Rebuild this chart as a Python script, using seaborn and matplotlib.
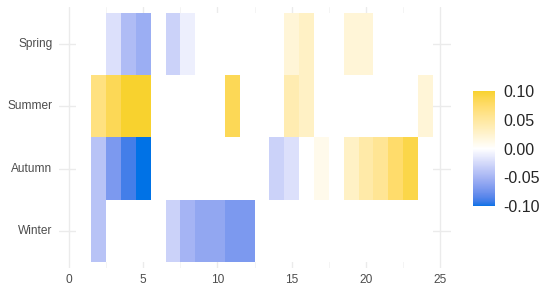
import numpy as np
import pandas as pd
import matplotlib
matplotlib.use("Agg")
import matplotlib.pyplot as plt
import seaborn as sns
from matplotlib.colors import ListedColormap

# data (x = 1..24, one row per season)
seasons = ["Spring", "Summer", "Autumn", "Winter"]
days = list(range(1, 25))
spring = [0, 0, -0.02, -0.045, -0.055, 0, -0.03, -0.01, 0, 0, 0, 0,
          0, 0, 0.02, 0.03, 0, 0, 0.02, 0.02, 0, 0, 0, 0]
summer = [0, 0.065, 0.085, 0.1, 0.1, 0, 0, 0, 0, 0, 0.085, 0,
          0, 0, 0.04, 0.03, 0, 0, 0, 0, 0, 0, 0, 0.02]
autumn = [0, -0.04, -0.07, -0.09, -0.1, 0, 0, 0, 0, 0, 0, 0,
          0, -0.03, -0.02, 0, 0.01, 0, 0.03, 0.045, 0.055, 0.075, 0.09, 0]
winter = [0, -0.04, 0, 0, 0, 0, -0.03, -0.05, -0.06, -0.06, -0.07, -0.07,
          0, 0, 0, 0, 0, 0, 0, 0, 0, 0, 0, 0]

x_ticks = [0, 5, 10, 15, 20, 25]
x_minor = [2.5, 7.5, 12.5, 17.5, 22.5]
cbar_ticks = [-0.1, -0.05, 0.0, 0.05, 0.1]
cbar_labels = ["-0.10", "-0.05", "0.00", "0.05", "0.10"]

df = pd.DataFrame([spring, summer, autumn, winter], index=seasons, columns=days)

# diverging gradient interpolated in CIE Lab (like ggplot's gradient2)
M = np.array([[0.4124, 0.3576, 0.1805],
              [0.2126, 0.7152, 0.0722],
              [0.0193, 0.1192, 0.9505]])
WP = np.array([0.95047, 1.0, 1.08883])


def to_lab(h):
    rgb = np.array([int(h[i:i + 2], 16) for i in (1, 3, 5)]) / 255
    lin = np.where(rgb <= 0.04045, rgb / 12.92, ((rgb + 0.055) / 1.055) ** 2.4)
    xyz = M @ lin / WP
    f = np.where(xyz > 0.008856, np.cbrt(xyz), 7.787 * xyz + 16 / 116)
    return np.array([116 * f[1] - 16, 500 * (f[0] - f[1]), 200 * (f[1] - f[2])])


def from_lab(lab):
    fy = (lab[0] + 16) / 116
    f = np.array([fy + lab[1] / 500, fy, fy - lab[2] / 200])
    xyz = np.where(f ** 3 > 0.008856, f ** 3, (f - 16 / 116) / 7.787) * WP
    lin = np.linalg.solve(M, xyz)
    rgb = np.where(lin <= 0.0031308, 12.92 * lin, 1.055 * np.clip(lin, 0, None) ** (1 / 2.4) - 0.055)
    return np.clip(rgb, 0, 1)


low, mid, high = to_lab("#0072E6"), to_lab("#FFFFFF"), to_lab("#F8D22E")
cols = []
for t in np.linspace(0, 1, 255):
    if t <= 0.5:
        cols.append(from_lab(low + (mid - low) * (t / 0.5)))
    else:
        cols.append(from_lab(mid + (high - mid) * ((t - 0.5) / 0.5)))
cmap = ListedColormap(cols)

sns.set_theme(style="white")
plt.rcParams["font.family"] = ["Liberation Sans", "DejaVu Sans"]

fig = plt.figure(figsize=(5.54, 2.94), dpi=100)
ax = fig.add_axes([0.1058, 0.0884, 0.7076, 0.888])
cax = fig.add_axes([0.854, 0.299, 0.0397, 0.391])

sns.heatmap(df, cmap=cmap, vmin=-0.1, vmax=0.1, ax=ax, cbar_ax=cax,
            xticklabels=False, yticklabels=True, linewidths=0)

# continuous-looking x axis: column for value v is centred at v - 0.5
ax.set_xticks([v - 0.5 for v in x_ticks])
ax.set_xticklabels([str(v) for v in x_ticks])
ax.set_xticks([v - 0.5 for v in x_minor], minor=True)
ax.set_yticks([i + 0.5 for i in range(len(seasons))])
ax.set_yticklabels(seasons, rotation=0)
ax.set_xlim(-1.2, 25.2)
ax.set_ylim(4.1, -0.1)
ax.set_xlabel("")
ax.set_ylabel("")

ax.set_axisbelow(True)
ax.grid(True, which="major", color="#ebebeb", lw=1.0)
ax.grid(True, which="minor", axis="x", color="#f2f2f2", lw=0.6)
ax.tick_params(which="both", length=0, labelsize=8.6, labelcolor="#4d4d4d")
ax.tick_params(axis="y", pad=4.5)
ax.tick_params(axis="x", pad=4)
for s in ax.spines.values():
    s.set_visible(False)

cbar = ax.collections[0].colorbar
cbar.outline.set_visible(False)
cbar.set_ticks(cbar_ticks)
cbar.set_ticklabels(cbar_labels)
cax.tick_params(which="both", direction="in", length=4.5, width=0.8,
                color="white", left=True, right=True,
                labelleft=False, labelright=True, labelsize=11.5, pad=5.8)

fig.savefig("out.png", dpi=100)
